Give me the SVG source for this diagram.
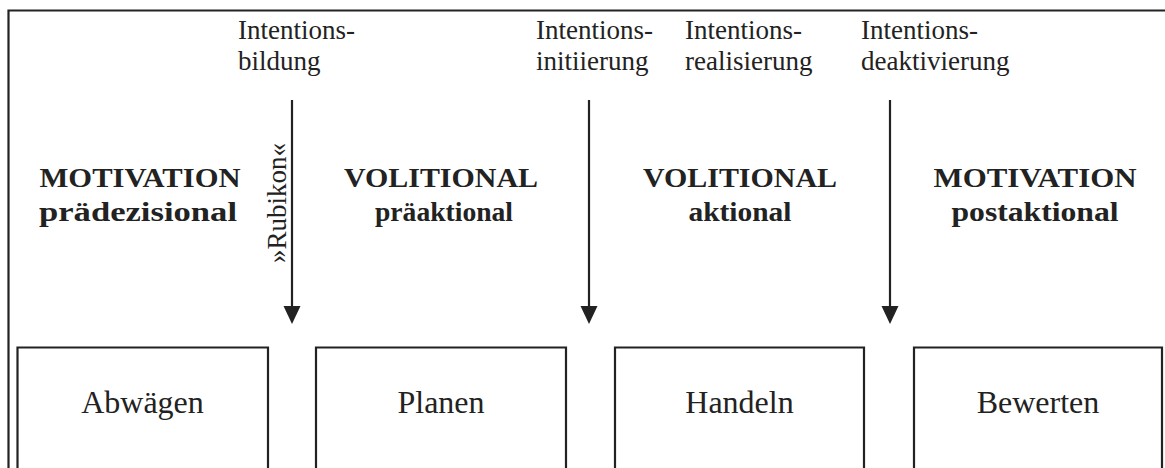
<svg xmlns="http://www.w3.org/2000/svg" width="1165" height="468" viewBox="0 0 1165 468">
  <style>
    .frame { fill: none; stroke: #222; stroke-width: 2.2; }
    .box { fill: #fff; stroke: #222; stroke-width: 2.2; }
    .lbl { font-family: "Liberation Serif", "Times New Roman", serif; font-size: 27px; fill: #222; }
    .head { font-family: "Liberation Serif", "Times New Roman", serif; font-size: 28px; font-weight: bold; fill: #222; text-anchor: middle; }
    .boxtxt { font-family: "Liberation Serif", "Times New Roman", serif; font-size: 32px; fill: #222; text-anchor: middle; }
    .wire { stroke: #222; stroke-width: 2.2; fill: none; }
    .tip { fill: #222; }
  </style>

  <rect width="1165" height="468" fill="#fff"/>

  <!-- outer frame: open at right and bottom -->
  <path class="frame" d="M1165 10.5 H8.5 V468"/>

  <!-- transition labels -->
  <g id="labels">
    <text class="lbl" x="238" y="39">Intentions-</text>
    <text class="lbl" x="238" y="70">bildung</text>
    <text class="lbl" x="536" y="39">Intentions-</text>
    <text class="lbl" x="536" y="70">initiierung</text>
    <text class="lbl" x="685" y="39">Intentions-</text>
    <text class="lbl" x="685" y="70">realisierung</text>
    <text class="lbl" x="861" y="39">Intentions-</text>
    <text class="lbl" x="861" y="70">deaktivierung</text>
    <text class="lbl" font-size="26" text-anchor="middle" transform="translate(286 203) rotate(-90)">»Rubikon«</text>
  </g>

  <!-- phase headings -->
  <g id="headings">
    <text class="head" x="140" y="187" textLength="201" lengthAdjust="spacingAndGlyphs">MOTIVATION</text>
    <text class="head" x="138" y="221" textLength="198" lengthAdjust="spacingAndGlyphs">prädezisional</text>
    <text class="head" x="441" y="187" textLength="194" lengthAdjust="spacingAndGlyphs">VOLITIONAL</text>
    <text class="head" x="444" y="221" textLength="138" lengthAdjust="spacingAndGlyphs">präaktional</text>
    <text class="head" x="740" y="187" textLength="194" lengthAdjust="spacingAndGlyphs">VOLITIONAL</text>
    <text class="head" x="740" y="221" textLength="103" lengthAdjust="spacingAndGlyphs">aktional</text>
    <text class="head" x="1035" y="187" textLength="203" lengthAdjust="spacingAndGlyphs">MOTIVATION</text>
    <text class="head" x="1035" y="221" textLength="167" lengthAdjust="spacingAndGlyphs">postaktional</text>
  </g>

  <!-- connectors -->
  <g id="connectors">
    <line class="wire" x1="292" y1="100" x2="292" y2="308"/>
    <polygon class="tip" points="283.5,306 300.5,306 292,324"/>
    <line class="wire" x1="589" y1="100" x2="589" y2="308"/>
    <polygon class="tip" points="580.5,306 597.5,306 589,324"/>
    <line class="wire" x1="890" y1="100" x2="890" y2="308"/>
    <polygon class="tip" points="881.5,306 898.5,306 890,324"/>
  </g>

  <!-- phase boxes, running off the bottom edge -->
  <g id="abwaegen">
    <path class="box" d="M17.5 470 V347.5 H268 V470"/>
    <text class="boxtxt" x="142.5" y="413">Abwägen</text>
  </g>
  <g id="planen">
    <path class="box" d="M316 470 V347.5 H566 V470"/>
    <text class="boxtxt" x="441" y="413">Planen</text>
  </g>
  <g id="handeln">
    <path class="box" d="M615 470 V347.5 H864 V470"/>
    <text class="boxtxt" x="739.5" y="413">Handeln</text>
  </g>
  <g id="bewerten">
    <path class="box" d="M914 470 V347.5 H1162 V470"/>
    <text class="boxtxt" x="1038" y="413">Bewerten</text>
  </g>
</svg>
